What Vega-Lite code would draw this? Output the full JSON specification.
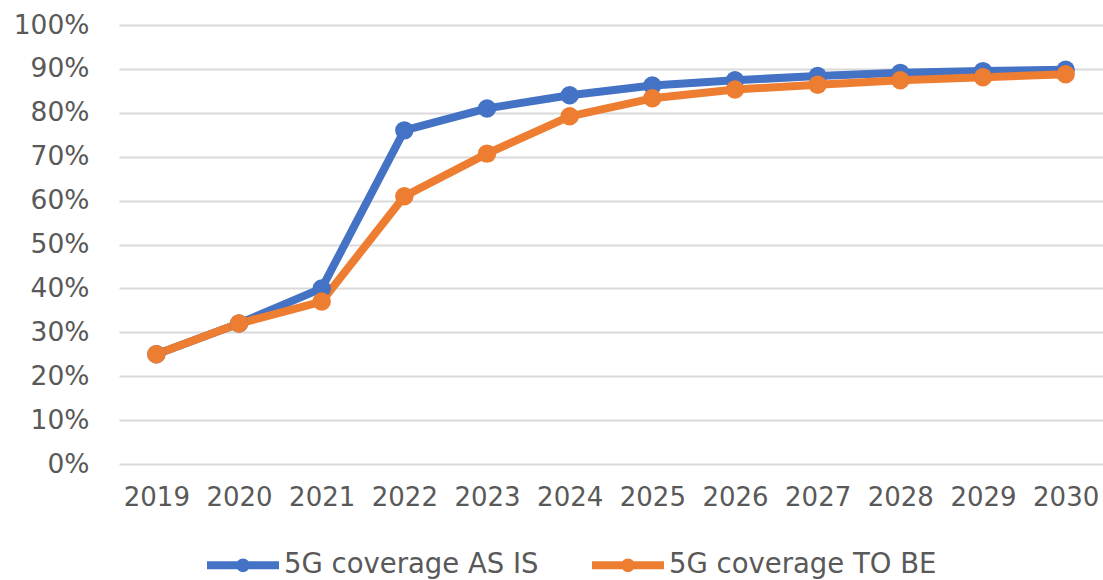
{
  "$schema": "https://vega.github.io/schema/vega-lite/v6.json",
  "autosize": "none",
  "padding": {"left": 119, "top": 25, "right": 0, "bottom": 116},
  "width": 984,
  "height": 439,
  "background": "white",
  "config": {
    "font": "DejaVu Sans",
    "view": {"stroke": null}
  },
  "data": {
    "values": [
      {"year": "2019", "series": "5G coverage AS IS", "value": 0.25},
      {"year": "2020", "series": "5G coverage AS IS", "value": 0.32},
      {"year": "2021", "series": "5G coverage AS IS", "value": 0.40},
      {"year": "2022", "series": "5G coverage AS IS", "value": 0.76},
      {"year": "2023", "series": "5G coverage AS IS", "value": 0.81},
      {"year": "2024", "series": "5G coverage AS IS", "value": 0.84},
      {"year": "2025", "series": "5G coverage AS IS", "value": 0.862},
      {"year": "2026", "series": "5G coverage AS IS", "value": 0.874},
      {"year": "2027", "series": "5G coverage AS IS", "value": 0.884},
      {"year": "2028", "series": "5G coverage AS IS", "value": 0.891},
      {"year": "2029", "series": "5G coverage AS IS", "value": 0.895},
      {"year": "2030", "series": "5G coverage AS IS", "value": 0.898},
      {"year": "2019", "series": "5G coverage TO BE", "value": 0.25},
      {"year": "2020", "series": "5G coverage TO BE", "value": 0.32},
      {"year": "2021", "series": "5G coverage TO BE", "value": 0.37},
      {"year": "2022", "series": "5G coverage TO BE", "value": 0.61},
      {"year": "2023", "series": "5G coverage TO BE", "value": 0.707},
      {"year": "2024", "series": "5G coverage TO BE", "value": 0.792},
      {"year": "2025", "series": "5G coverage TO BE", "value": 0.833},
      {"year": "2026", "series": "5G coverage TO BE", "value": 0.853},
      {"year": "2027", "series": "5G coverage TO BE", "value": 0.864},
      {"year": "2028", "series": "5G coverage TO BE", "value": 0.874},
      {"year": "2029", "series": "5G coverage TO BE", "value": 0.881},
      {"year": "2030", "series": "5G coverage TO BE", "value": 0.888}
    ]
  },
  "encoding": {
    "x": {
      "field": "year", "type": "ordinal",
      "scale": {"type": "point", "padding": 0.452},
      "axis": {
        "title": null, "labelAngle": 0, "domain": false, "ticks": false, "grid": false,
        "labelFontSize": 26, "labelColor": "#595959", "labelPadding": 20
      }
    },
    "y": {
      "field": "value", "type": "quantitative",
      "scale": {"domain": [0, 1], "nice": false},
      "axis": {
        "title": null, "format": ".0%", "values": [0, 0.1, 0.2, 0.3, 0.4, 0.5, 0.6, 0.7, 0.8, 0.9, 1.0],
        "domain": false, "ticks": false, "grid": true, "gridColor": "#d9d9d9", "gridWidth": 2,
        "labelFontSize": 26.5, "labelColor": "#595959", "labelPadding": 30
      }
    },
    "color": {
      "field": "series", "type": "nominal",
      "scale": {"domain": ["5G coverage AS IS", "5G coverage TO BE"], "range": ["#4472C4", "#ED7D31"]},
      "legend": {
        "title": null,
        "orient": "none",
        "direction": "horizontal",
        "legendX": 88,
        "legendY": 504,
        "symbolType": "M-1,-0.11L1,-0.11L1,0.11L-1,0.11Z M-0.19,0 A0.19,0.19 0 1 1 0.19,0 A0.19,0.19 0 1 1 -0.19,0Z",
        "symbolSize": 5184,
        "symbolStrokeWidth": 0,
        "labelFontSize": 27.5,
        "labelColor": "#595959",
        "labelOffset": 5,
        "labelLimit": 0,
        "columnPadding": 53,
        "encode": {
          "symbols": {"update": {"fill": {"scale": "color", "field": "value"}, "strokeWidth": {"value": 0}, "opacity": {"value": 1}}}
        }
      }
    }
  },
  "layer": [
    {"mark": {"type": "line", "strokeWidth": 8, "strokeJoin": "round", "strokeCap": "round"}},
    {"mark": {"type": "point", "filled": true, "opacity": 1, "size": 340}}
  ]
}
